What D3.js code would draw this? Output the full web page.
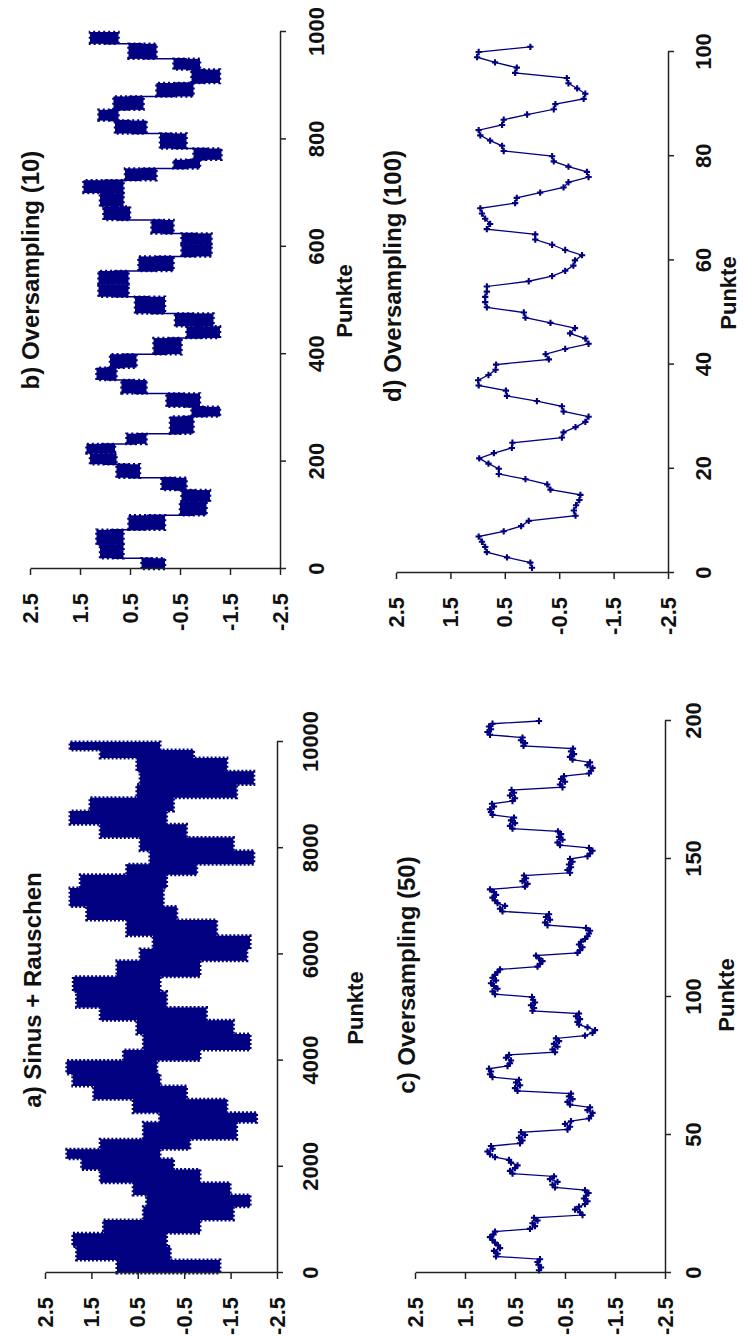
<!DOCTYPE html>
<html>
<head>
<meta charset="utf-8">
<script src="https://cdn.jsdelivr.net/npm/d3@7"></script>
<style>
  body { margin: 0; background: #fff; }
  svg { display: block; background: #fff; }
  .axis path, .axis line { stroke: #222; stroke-width: 1.5; }
  .axis text { font-family: "Liberation Sans", Arial, sans-serif; font-weight: bold; font-size: 22px; fill: #111; }
  .lbl { font-family: "Liberation Sans", Arial, sans-serif; font-weight: bold; fill: #111; }
</style>
</head>
<body>
<svg id="chart" width="743" height="1337"></svg>
<script>
// tick labels
const valueTicks = [2.5, 1.5, 0.5, -0.5, -1.5, -2.5];
const aTicks = [0, 2000, 4000, 6000, 8000, 10000];
const bTicks = [0, 200, 400, 600, 800, 1000];
const cTicks = [0, 50, 100, 150, 200];
const dTicks = [0, 20, 40, 60, 80, 100];

const titles = ['a) Sinus + Rauschen', 'b) Oversampling (10)', 'c) Oversampling (50)', 'd) Oversampling (100)'];
const xLabel = 'Punkte';

// a) 10000 points - too dense to read one by one, read as the band per block (edges, upper, lower)
const aEdges = [0, 245, 500, 750, 1000, 1250, 1470, 1700, 1950, 2150, 2330, 2520, 2840, 3020, 3270, 3520, 3750, 4000, 4200, 4500, 4760,
                5000, 5300, 5580, 5880, 6100, 6350, 6650, 6900, 7250, 7500, 7700, 7950, 8200, 8450, 8700, 8950, 9200, 9450, 9700, 9850, 10000];
const aHigh = [0.95, 1.82, 1.9, 1.24, 0.38, 0.31, 0.6, 1.31, 1.71, 2.03, 1.31, 0.38, 0.03, 0.6, 1.45, 1.9, 2.03, 0.81, 0.38, 0.52, 1.31,
               1.82, 1.89, 0.95, 0.45, 0.17, 0.74, 1.6, 1.96, 1.74, 0.74, 0.24, 0.45, 1.31, 1.96, 1.53, 0.52, 0.45, 0.52, 1.31, 1.96];
const aLow = [-1.27, -0.2, -0.12, -0.84, -1.56, -1.92, -1.49, -0.84, -0.27, 0.02, -0.62, -1.63, -2.06, -1.42, -0.55, 0.02, 0.09, -0.84, -1.92, -1.56, -0.98,
              -0.12, 0.02, -0.84, -1.85, -1.92, -1.2, -0.34, -0.05, -0.12, -0.77, -2.0, -1.56, -0.55, -0.12, -0.27, -1.63, -2.0, -1.42, -0.7, 0.02];

// b) 1000 points - read as clusters (edges, upper, lower)
const bEdges = [0, 20, 45, 73, 100, 125, 147, 170, 195, 215, 233, 252, 284, 302, 327, 352, 375, 400, 430, 452, 476,
                507, 530, 555, 582, 605, 625, 650, 675, 700, 724, 746, 762, 783, 811, 835, 855, 880, 905, 930, 950, 978, 1000];
const bHigh = [0.27, 1.1, 1.17, 0.53, -0.5, -0.53, -0.13, 0.77, 1.3, 1.37, 0.57, -0.3, -0.73, -0.23, 0.67, 1.17, 0.9, 0.03, -0.63, -0.4, 0.4,
               1.13, 1.13, 0.33, -0.53, -0.53, 0.07, 1.03, 1.1, 1.43, 0.6, -0.37, -0.77, -0.1, 0.8, 1.13, 0.83, -0.03, -0.73, -0.37, 0.53, 1.3];
const bLow = [-0.2, 0.63, 0.63, -0.2, -1.03, -1.1, -0.63, 0.3, 0.77, 0.8, 0.17, -0.77, -1.3, -0.9, 0.17, 0.77, 0.37, -0.53, -1.3, -1.17, -0.2,
              0.53, 0.53, -0.37, -1.13, -1.13, -0.37, 0.5, 0.63, 0.63, -0.03, -0.9, -1.33, -0.63, 0.17, 0.73, 0.23, -0.77, -1.3, -0.9, -0.03, 0.73];

// c) 200 points (x = 1..200)
const cValues = [0.02, -0.02, 0.03, 0.05, 0.0,
  0.88, 0.85, 0.92, 0.8, 0.84, 0.9, 0.95, 1.0, 0.93, 0.9,
  0.2, 0.1, 0.15, 0.05, 0.12,
  -0.85, -0.8, -0.7, -0.78, -0.9, -0.95, -0.88, -0.92, -0.97, -0.9,
  -0.3, -0.25, -0.35, -0.2, -0.28,
  0.55, 0.6, 0.5, 0.45, 0.58, 0.62,
  0.9, 1.0, 1.05, 0.95, 0.98,
  0.4, 0.35, 0.42, 0.3, 0.38,
  -0.55, -0.6, -0.5, -0.62,
  -0.98, -1.02, -1.05, -0.95, -1.0,
  -0.6, -0.55, -0.65, -0.58, -0.62,
  0.45, 0.5, 0.4, 0.48, 0.42,
  0.95, 1.0, 0.98, 1.02,
  0.65, 0.6, 0.58, 0.68, 0.62,
  -0.3, -0.25, -0.35, -0.28, -0.38, -0.32,
  -0.9, -1.05, -1.1, -0.95,
  -0.78, -0.75, -0.8, -0.72, -0.78,
  0.15, 0.12, 0.18, 0.1, 0.14, 0.16,
  0.9, 0.95, 0.85, 0.92, 0.98, 0.88, 0.95, 0.9, 0.85, 0.8,
  0.05, 0.0, -0.05, 0.02, 0.08,
  -0.75, -0.8, -0.85, -0.78, -0.82, -0.9, -0.95, -0.98, -1.0, -0.92,
  -0.15, -0.1, -0.2, -0.12, -0.18,
  0.75, 0.8, 0.7, 0.85, 0.9, 0.95, 0.88, 0.92, 1.0,
  0.3, 0.25, 0.35, 0.28, 0.32,
  -0.6, -0.55, -0.62, -0.58, -0.65, -0.6,
  -0.95, -1.0, -1.05, -0.98,
  -0.4, -0.35, -0.45, -0.38, -0.42, -0.36,
  0.55, 0.6, 0.5, 0.58, 0.52,
  0.95, 0.98, 1.0, 0.92, 0.96,
  0.55, 0.5, 0.6, 0.52, 0.57,
  -0.45, -0.4, -0.5, -0.42, -0.48,
  -0.98, -1.02, -1.05, -0.95, -1.0,
  -0.65, -0.6, -0.68, -0.62, -0.66,
  0.33, 0.3, 0.38, 0.35,
  1.0, 1.05, 0.98, 1.02, 0.95,
  0.02];

// d) 101 points (x = 1..101)
const dValues = [0.0, 0.03, 0.46, 0.83, 0.86, 0.92, 0.98, 0.52, 0.2, 0.06,
  -0.8, -0.77, -0.81, -0.87, -0.89, -0.34, -0.28, 0.12, 0.61, 0.61,
  0.8, 0.97, 0.7, 0.37, 0.36, -0.55, -0.58, -0.8, -0.98, -1.04,
  -0.58, -0.55, -0.09, 0.46, 0.48, 0.98, 0.99, 0.8, 0.67, 0.66,
  -0.31, -0.25, -0.61, -1.04, -0.98, -0.7, -0.79, -0.34, 0.12, 0.15,
  0.83, 0.86, 0.86, 0.83, 0.83, 0.06, -0.37, -0.61, -0.76, -0.79,
  -0.92, -0.61, -0.37, -0.06, -0.06, 0.83, 0.77, 0.86, 0.92, 0.95,
  0.31, 0.28, -0.15, -0.58, -0.67, -1.04, -1.01, -0.67, -0.4, -0.37,
  0.52, 0.55, 0.77, 0.95, 0.98, 0.55, 0.52, 0.09, -0.4, -0.43,
  -0.95, -0.98, -0.83, -0.67, -0.64, 0.31, 0.28, 0.68, 1.01, 0.98,
  0.03];

const navy = '#000080';
const W = 1337, H = 743;

const svg = d3.select('#chart');
// the whole chart is drawn landscape and then turned a quarter to the left
const root = svg.append('g').attr('transform', 'translate(0,' + W + ') rotate(-90)');

const panels = [
  {id: 'a', domain: [0, 10000], xr: [64, 595], yr: [277, 45], ticks: aTicks, pad: 19, title: [347, 41], xlab: [329, 363]},
  {id: 'b', domain: [0, 1000], xr: [768, 1305], yr: [280, 30], ticks: bTicks, pad: 22, title: [1067, 39], xlab: [1036, 352]},
  {id: 'c', domain: [0, 200], xr: [64, 616], yr: [665, 415], ticks: cTicks, pad: 14, title: [362, 415], xlab: [342, 734]},
  {id: 'd', domain: [0, 100], xr: [764, 1285], yr: [668, 396], ticks: dTicks, pad: 21, title: [1061, 401], xlab: [1044, 736]}
];

panels.forEach((p, pi) => {
  const g = root.append('g');
  const x = d3.scaleLinear().domain(p.domain).range(p.xr);
  const y = d3.scaleLinear().domain([-2.5, 2.5]).range(p.yr);

  if (p.id === 'a') {
    const pts = aHigh.map((h, i) => ({k: aEdges[i], hi: h, lo: aLow[i]}));
    pts.push({k: aEdges[aEdges.length - 1], hi: aHigh[aHigh.length - 1], lo: aLow[aLow.length - 1]});
    const area = d3.area()
                   .x(d => x(d.k))
                   .y0(d => y(d.lo))
                   .y1(d => y(d.hi))
                   .curve(d3.curveStepAfter);
    g.append('path')
     .attr('d', area(pts))
     .attr('fill', navy)
     .attr('stroke', navy)
     .attr('stroke-width', 3)
     .attr('stroke-dasharray', '2 2');
  }

  if (p.id === 'b') {
    const blobs = bHigh.map((h, i) => ({x0: bEdges[i], x1: bEdges[i + 1], hi: h, lo: bLow[i]}));
    const links = [];
    for (let i = 0; i < blobs.length - 1; i++) {
      links.push([blobs[i].x1, (blobs[i].hi + blobs[i].lo) / 2, (blobs[i + 1].hi + blobs[i + 1].lo) / 2]);
    }
    g.selectAll('line.jump')
     .data(links)
     .enter()
     .append('line')
     .attr('class', 'jump')
     .attr('x1', d => x(d[0]))
     .attr('x2', d => x(d[0]))
     .attr('y1', d => y(d[1]))
     .attr('y2', d => y(d[2]))
     .attr('stroke', navy)
     .attr('stroke-width', 1.5);
    g.selectAll('rect.blob')
     .data(blobs)
     .enter()
     .append('rect')
     .attr('class', 'blob')
     .attr('x', d => x(d.x0))
     .attr('width', d => x(d.x1) - x(d.x0))
     .attr('y', d => y(d.hi))
     .attr('height', d => y(d.lo) - y(d.hi))
     .attr('fill', navy)
     .attr('stroke', navy)
     .attr('stroke-width', 2.5)
     .attr('stroke-dasharray', '2 3');
  }

  if (p.id === 'c' || p.id === 'd') {
    const vals = p.id === 'c' ? cValues : dValues;
    const pts = vals.map((v, i) => [i + 1, v]);
    const line = d3.line().x(d => x(d[0])).y(d => y(d[1]));
    g.append('path')
     .attr('d', line(pts))
     .attr('fill', 'none')
     .attr('stroke', navy)
     .attr('stroke-width', 1.3);
    g.selectAll('path.mark')
     .data(pts)
     .enter()
     .append('path')
     .attr('class', 'mark')
     .attr('transform', d => 'translate(' + x(d[0]) + ',' + y(d[1]) + ')')
     .attr('d', d3.symbol(d3.symbolCross).size(22))
     .attr('fill', navy);
  }

  g.append('g')
   .attr('class', 'axis')
   .attr('transform', 'translate(' + p.xr[0] + ',0)')
   .call(d3.axisLeft(y).tickValues(valueTicks).tickFormat(d => d.toFixed(1))
           .tickSize(6).tickSizeOuter(0).tickPadding(18));

  g.append('g')
   .attr('class', 'axis')
   .attr('transform', 'translate(0,' + p.yr[0] + ')')
   .call(d3.axisBottom(x).tickValues(p.ticks).tickFormat(d3.format('d'))
           .tickSize(6).tickSizeOuter(0).tickPadding(p.pad));

  g.append('text')
   .attr('class', 'lbl')
   .attr('x', p.title[0])
   .attr('y', p.title[1])
   .attr('text-anchor', 'middle')
   .attr('font-size', 24)
   .text(titles[pi]);

  g.append('text')
   .attr('class', 'lbl')
   .attr('x', p.xlab[0])
   .attr('y', p.xlab[1])
   .attr('text-anchor', 'middle')
   .attr('font-size', 22)
   .text(xLabel);
});
</script>
</body>
</html>
